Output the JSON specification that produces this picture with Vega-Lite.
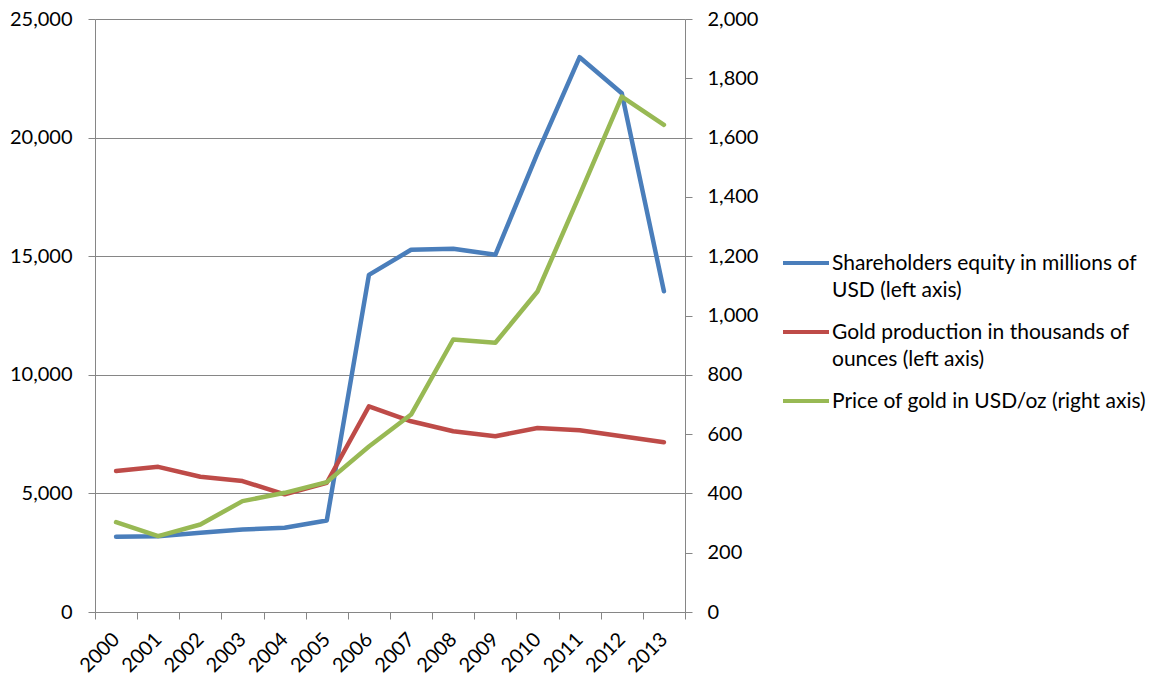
{
  "$schema": "https://vega.github.io/schema/vega-lite/v6.json",
  "width": 590,
  "height": 593,
  "autosize": {"type": "none"},
  "padding": {"left": 95, "top": 19, "right": 475, "bottom": 64},
  "background": "white",
  "config": {
    "font": "Lato",
    "view": {"stroke": null},
    "axis": {
      "domainColor": "#868686",
      "tickColor": "#868686",
      "gridColor": "#868686",
      "labelColor": "#000000",
      "labelFontSize": 20,
      "tickSize": 7,
      "title": null
    }
  },
  "data": {
    "values": [
      {"year": 2000, "series": "Shareholders equity in millions of USD (left axis)", "value": 3175},
      {"year": 2001, "series": "Shareholders equity in millions of USD (left axis)", "value": 3190},
      {"year": 2002, "series": "Shareholders equity in millions of USD (left axis)", "value": 3340},
      {"year": 2003, "series": "Shareholders equity in millions of USD (left axis)", "value": 3480},
      {"year": 2004, "series": "Shareholders equity in millions of USD (left axis)", "value": 3555},
      {"year": 2005, "series": "Shareholders equity in millions of USD (left axis)", "value": 3860},
      {"year": 2006, "series": "Shareholders equity in millions of USD (left axis)", "value": 14210},
      {"year": 2007, "series": "Shareholders equity in millions of USD (left axis)", "value": 15270},
      {"year": 2008, "series": "Shareholders equity in millions of USD (left axis)", "value": 15310},
      {"year": 2009, "series": "Shareholders equity in millions of USD (left axis)", "value": 15060},
      {"year": 2010, "series": "Shareholders equity in millions of USD (left axis)", "value": 19350},
      {"year": 2011, "series": "Shareholders equity in millions of USD (left axis)", "value": 23390},
      {"year": 2012, "series": "Shareholders equity in millions of USD (left axis)", "value": 21870},
      {"year": 2013, "series": "Shareholders equity in millions of USD (left axis)", "value": 13520},
      {"year": 2000, "series": "Gold production in thousands of ounces (left axis)", "value": 5940},
      {"year": 2001, "series": "Gold production in thousands of ounces (left axis)", "value": 6120},
      {"year": 2002, "series": "Gold production in thousands of ounces (left axis)", "value": 5700},
      {"year": 2003, "series": "Gold production in thousands of ounces (left axis)", "value": 5520},
      {"year": 2004, "series": "Gold production in thousands of ounces (left axis)", "value": 4960},
      {"year": 2005, "series": "Gold production in thousands of ounces (left axis)", "value": 5450},
      {"year": 2006, "series": "Gold production in thousands of ounces (left axis)", "value": 8670},
      {"year": 2007, "series": "Gold production in thousands of ounces (left axis)", "value": 8040},
      {"year": 2008, "series": "Gold production in thousands of ounces (left axis)", "value": 7620},
      {"year": 2009, "series": "Gold production in thousands of ounces (left axis)", "value": 7410},
      {"year": 2010, "series": "Gold production in thousands of ounces (left axis)", "value": 7760},
      {"year": 2011, "series": "Gold production in thousands of ounces (left axis)", "value": 7660},
      {"year": 2012, "series": "Gold production in thousands of ounces (left axis)", "value": 7410},
      {"year": 2013, "series": "Gold production in thousands of ounces (left axis)", "value": 7160},
      {"year": 2000, "series": "Price of gold in USD/oz (right axis)", "value": 303},
      {"year": 2001, "series": "Price of gold in USD/oz (right axis)", "value": 256},
      {"year": 2002, "series": "Price of gold in USD/oz (right axis)", "value": 295},
      {"year": 2003, "series": "Price of gold in USD/oz (right axis)", "value": 374},
      {"year": 2004, "series": "Price of gold in USD/oz (right axis)", "value": 402},
      {"year": 2005, "series": "Price of gold in USD/oz (right axis)", "value": 438},
      {"year": 2006, "series": "Price of gold in USD/oz (right axis)", "value": 558},
      {"year": 2007, "series": "Price of gold in USD/oz (right axis)", "value": 666},
      {"year": 2008, "series": "Price of gold in USD/oz (right axis)", "value": 919},
      {"year": 2009, "series": "Price of gold in USD/oz (right axis)", "value": 908},
      {"year": 2010, "series": "Price of gold in USD/oz (right axis)", "value": 1081},
      {"year": 2011, "series": "Price of gold in USD/oz (right axis)", "value": 1407},
      {"year": 2012, "series": "Price of gold in USD/oz (right axis)", "value": 1738},
      {"year": 2013, "series": "Price of gold in USD/oz (right axis)", "value": 1643}
    ]
  },
  "encoding": {
    "x": {
      "field": "year",
      "type": "quantitative",
      "scale": {"domain": [1999.5, 2013.5], "nice": false, "zero": false},
      "axis": {
        "values": [1999.5, 2000.5, 2001.5, 2002.5, 2003.5, 2004.5, 2005.5, 2006.5, 2007.5, 2008.5, 2009.5, 2010.5, 2011.5, 2012.5, 2013.5],
        "labelExpr": "datum.value > 2013 ? '' : format(datum.value + 0.5, 'd')",
        "labelOffset": 21,
        "labelAngle": -45,
        "labelAlign": "right",
        "labelBaseline": "middle",
        "labelFlush": false,
        "labelOverlap": false,
        "labelPadding": 17,
        "grid": false
      }
    },
    "color": {
      "field": "series",
      "type": "nominal",
      "scale": {
        "domain": [
          "Shareholders equity in millions of USD (left axis)",
          "Gold production in thousands of ounces (left axis)",
          "Price of gold in USD/oz (right axis)"
        ],
        "range": ["#4A7EBB", "#BE4B48", "#98B954"]
      },
      "legend": {
        "orient": "none",
        "legendX": 686,
        "legendY": 219,
        "title": null,
        "padding": 0,
        "symbolType": "stroke",
        "symbolSize": 2116,
        "symbolStrokeWidth": 4,
        "labelFontSize": 21,
        "labelColor": "#000000",
        "labelOffset": 1,
        "labelLimit": 0,
        "labelBaseline": "alphabetic",
        "rowPadding": 6,
        "labelExpr": "datum.label == 'Shareholders equity in millions of USD (left axis)' ? ['Shareholders equity in millions of', 'USD (left axis)'] : datum.label == 'Gold production in thousands of ounces (left axis)' ? ['Gold production in thousands of', 'ounces (left axis)'] : datum.label",
        "encode": {
          "labels": {"update": {"dy": {"value": 7}, "lineHeight": {"value": 27}}}
        }
      }
    }
  },
  "layer": [
    {
      "transform": [
        {"filter": {"field": "series", "oneOf": ["Shareholders equity in millions of USD (left axis)", "Gold production in thousands of ounces (left axis)"]}}
      ],
      "mark": {"type": "line", "strokeWidth": 4.5, "strokeCap": "round", "strokeJoin": "round"},
      "encoding": {
        "y": {
          "field": "value",
          "type": "quantitative",
          "scale": {"domain": [0, 25000], "nice": false},
          "axis": {
            "orient": "left",
            "values": [0, 5000, 10000, 15000, 20000, 25000],
            "format": ",d",
            "grid": true,
            "labelPadding": 16
          }
        }
      }
    },
    {
      "transform": [
        {"filter": {"field": "series", "equal": "Price of gold in USD/oz (right axis)"}}
      ],
      "mark": {"type": "line", "strokeWidth": 4.5, "strokeCap": "round", "strokeJoin": "round"},
      "encoding": {
        "y": {
          "field": "value",
          "type": "quantitative",
          "scale": {"domain": [0, 2000], "nice": false},
          "axis": {
            "orient": "right",
            "values": [0, 200, 400, 600, 800, 1000, 1200, 1400, 1600, 1800, 2000],
            "format": ",d",
            "grid": false,
            "labelPadding": 15
          }
        }
      }
    }
  ],
  "resolve": {"scale": {"y": "independent"}}
}
